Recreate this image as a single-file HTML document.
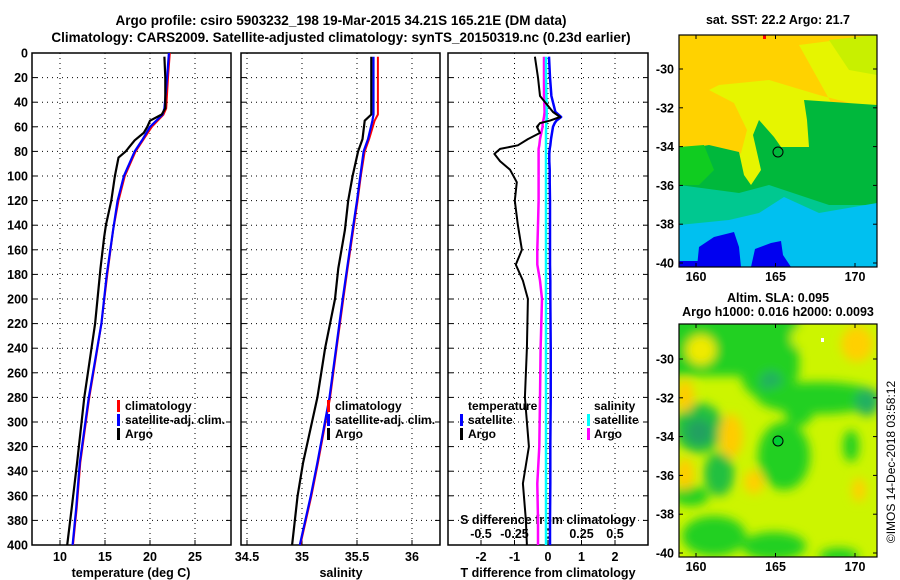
<!DOCTYPE html>
<html><head><meta charset="utf-8">
<style>
html,body{margin:0;padding:0;background:#fff;}
svg{display:block;font-family:"Liberation Sans",Arial,sans-serif;font-weight:bold;}
text{fill:#000;}
</style></head>
<body>
<svg id="chart" width="900" height="580" viewBox="0 0 900 580" xmlns="http://www.w3.org/2000/svg">
<defs>
<clipPath id="clip1"><rect x="32" y="53" width="199" height="492"/></clipPath>
<clipPath id="clip2"><rect x="241" y="53" width="199" height="492"/></clipPath>
<clipPath id="clip3"><rect x="448" y="53" width="200" height="492"/></clipPath>
<clipPath id="clipm1"><rect x="0" y="0" width="198" height="232"/></clipPath>
<clipPath id="clipm2"><rect x="0" y="0" width="198" height="233"/></clipPath>
<filter id="blur" x="-20%" y="-20%" width="140%" height="140%"><feGaussianBlur stdDeviation="5"/></filter>
</defs>
<text x="341" y="25" font-size="13.5" text-anchor="middle">Argo profile: csiro 5903232_198 19-Mar-2015 34.21S 165.21E (DM data)</text>
<text x="341" y="42" font-size="13.5" text-anchor="middle">Climatology: CARS2009. Satellite-adjusted climatology: synTS_20150319.nc (0.23d earlier)</text>
<g id="panels"></g>

<!-- Map 1: SST -->
<text x="778" y="24" font-size="12.5" text-anchor="middle">sat. SST: 22.2 Argo: 21.7</text>
<g transform="translate(679,35)">
 <g clip-path="url(#clipm1)">
  <rect width="198" height="232" fill="#ffd200"/>
  <polygon fill="#e6f500" points="120,10 198,0 198,75 140,60 90,45 40,50 10,65 0,70 0,130 60,150 198,150"/>
  <polygon fill="#ffd200" points="0,55 30,55 55,68 68,95 62,118 42,132 22,118 0,110"/>
  <polygon fill="#c8f000" points="150,5 198,0 198,40 170,35"/>
  <polygon fill="#00b83c" points="125,65 198,70 198,178 0,178 0,115 30,110 60,117 65,140 72,150 82,135 74,100 80,85 95,102 102,112 130,112 128,85"/>
  <polygon fill="#10cc20" points="0,112 25,110 35,135 20,150 0,150"/>
  <polygon fill="#00c890" points="0,150 60,158 90,150 150,170 198,170 198,195 0,198"/>
  <polygon fill="#00c0f0" points="0,190 50,185 80,178 105,162 140,178 198,168 198,232 0,232"/>
  <polygon fill="#0000f0" points="18,232 20,212 35,202 55,197 60,212 62,232"/>
  <polygon fill="#0000f0" points="72,232 76,214 92,208 102,206 104,220 112,232"/>
  <rect x="0" y="226" width="40" height="6" fill="#0000f0"/>
  <rect x="84" y="0" width="3" height="4" fill="#ff0000"/>
 </g>
 <circle cx="99" cy="117" r="5" fill="none" stroke="#000" stroke-width="1"/>
 <rect width="198" height="232" fill="none" stroke="#000" stroke-width="1.2"/>
</g>
<g id="map1axes"></g>

<!-- Map 2: SLA -->
<text x="778" y="302" font-size="12.5" text-anchor="middle">Altim. SLA: 0.095</text>
<text x="778" y="316" font-size="12.5" text-anchor="middle">Argo h1000: 0.016 h2000: 0.0093</text>
<g transform="translate(679,324)">
 <g clip-path="url(#clipm2)">
  <rect width="198" height="233" fill="#ccf500"/>
  <g filter="url(#blur)">
   <rect x="-10" y="-10" width="130" height="62" fill="#22d020"/>
   <ellipse cx="90" cy="50" rx="28" ry="26" fill="#22d020"/>
   <ellipse cx="92" cy="58" rx="11" ry="11" fill="#20b060"/>
   <ellipse cx="140" cy="74" rx="62" ry="16" fill="#22d020"/>
   <ellipse cx="120" cy="88" rx="14" ry="14" fill="#22d020"/>
   <ellipse cx="188" cy="78" rx="12" ry="14" fill="#20b060"/>
   <ellipse cx="20" cy="104" rx="25" ry="25" fill="#20c040"/>
   <ellipse cx="20" cy="108" rx="13" ry="13" fill="#20a060"/>
   <ellipse cx="40" cy="150" rx="15" ry="22" fill="#20c040"/>
   <ellipse cx="105" cy="132" rx="26" ry="34" fill="#22d020"/>
   <ellipse cx="12" cy="172" rx="18" ry="10" fill="#22d020"/>
   <ellipse cx="35" cy="212" rx="32" ry="20" fill="#22d020"/>
   <ellipse cx="95" cy="222" rx="32" ry="14" fill="#22d020"/>
   <ellipse cx="160" cy="232" rx="20" ry="8" fill="#22d020"/>
   <ellipse cx="172" cy="122" rx="8" ry="16" fill="#22d020"/>
   <ellipse cx="22" cy="26" rx="15" ry="15" fill="#f0ea00"/>
   <ellipse cx="120" cy="14" rx="8" ry="10" fill="#ccf500"/>
   <ellipse cx="52" cy="112" rx="12" ry="22" fill="#ffcc00"/>
   <ellipse cx="6" cy="72" rx="9" ry="16" fill="#ffcc00"/>
   <ellipse cx="6" cy="150" rx="9" ry="16" fill="#ffcc00"/>
   <ellipse cx="75" cy="158" rx="10" ry="12" fill="#ffd000"/>
   <ellipse cx="178" cy="20" rx="16" ry="18" fill="#ffd000"/>
   <ellipse cx="180" cy="166" rx="7" ry="12" fill="#ffd000"/>
  </g>
  <rect x="142" y="14" width="3" height="4" fill="#fff"/>
 </g>
 <circle cx="99" cy="117" r="5" fill="#00cc33" stroke="#000" stroke-width="1"/>
 <rect width="198" height="233" fill="none" stroke="#000" stroke-width="1.2"/>
</g>
<g id="map2axes"></g>
<text transform="translate(895,462) rotate(-90)" font-size="12" font-weight="normal" text-anchor="middle">©IMOS 14-Dec-2018 03:58:12</text>
</svg>
<script>
// ---------- data ----------
const depthTicks = [0,20,40,60,80,100,120,140,160,180,200,220,240,260,280,300,320,340,360,380,400];
const tempTicks = [10,15,20,25];
const salTicks = [34.5,35,35.5,36];
const tdiffTicks = [-2,-1,0,1,2];
const sdiffTicks = [-0.5,-0.25,0,0.25,0.5];
const sdiffTickLabels = ["-0.5","-0.25","0","0.25","0.5"];
const latTicks = [-30,-32,-34,-36,-38,-40];
const lonTicks = [160,165,170];

const argoTDepth = [3,20,45,50,55,60,65,71,80,85,100,120,140,150,175,220,250,280,333,370,400];
const argoTemp   = [21.6,21.7,21.7,21.3,20.0,19.7,19.3,18.3,17.3,16.5,16.1,15.7,15.1,14.9,14.5,13.9,13.3,12.7,11.9,11.3,10.8];
const climDepth  = [0,20,45,50,60,70,80,100,120,144,180,220,250,280,333,370,400];
const satTemp    = [22.1,21.9,21.6,21.4,20.0,19.2,18.3,17.1,16.4,15.9,15.2,14.6,13.9,13.2,12.2,11.8,11.4];
const climTemp   = [22.2,22.0,21.8,21.5,20.2,19.3,18.4,17.2,16.5,15.9,15.25,14.6,13.95,13.25,12.25,11.85,11.45];

const argoSDepth = [3,50,55,70,80,100,120,144,175,200,240,280,333,360,400];
const argoSal    = [35.63,35.63,35.57,35.55,35.51,35.46,35.42,35.39,35.33,35.30,35.21,35.14,35.01,34.96,34.91];
const satSal     = [35.65,35.65,35.64,35.60,35.56,35.53,35.50,35.46,35.41,35.37,35.31,35.25,35.14,35.08,34.98];
const climSal    = [35.69,35.69,35.66,35.61,35.57,35.535,35.505,35.465,35.415,35.375,35.315,35.255,35.145,35.085,34.985];

const diffDepth  = [3,20,35,48,52,55,57,60,65,70,75,78,82,88,95,105,120,140,160,172,185,200,240,280,320,350,380,400];
const argoTDiff  = [-0.39,-0.30,-0.24,0.15,0.36,0.05,-0.24,-0.33,-0.24,-0.60,-0.90,-1.43,-1.60,-1.43,-1.13,-0.93,-0.99,-0.90,-0.78,-0.96,-0.75,-0.60,-0.63,-0.69,-0.57,-0.75,-0.66,-0.63];
const satTDiff   = [0.03,0.06,0.10,0.22,0.39,0.25,0.20,0.15,0.12,0.09,0.07,0.05,0.04,0.04,0.05,0.05,0.06,0.06,0.06,0.06,0.07,0.07,0.08,0.08,0.07,0.07,0.06,0.06];
const argoSDiff  = [-0.03,-0.03,-0.03,-0.025,-0.03,-0.035,-0.04,-0.04,-0.05,-0.06,-0.065,-0.07,-0.07,-0.07,-0.07,-0.07,-0.07,-0.075,-0.08,-0.08,-0.06,-0.045,-0.055,-0.06,-0.065,-0.08,-0.075,-0.075];
const satSDiff   = [-0.015,-0.015,-0.012,-0.01,-0.01,-0.012,-0.013,-0.014,-0.015,-0.015,-0.015,-0.015,-0.015,-0.015,-0.015,-0.015,-0.015,-0.015,-0.015,-0.015,-0.015,-0.015,-0.015,-0.015,-0.015,-0.015,-0.015,-0.015];

// ---------- helpers ----------
const NS = "http://www.w3.org/2000/svg";
const root = document.getElementById("panels");
function mk(tag, attrs, parent){
  const e = document.createElementNS(NS, tag);
  for (const k in attrs) e.setAttribute(k, attrs[k]);
  (parent||root).appendChild(e);
  return e;
}
const TOP = 53, BOT = 545;
const yD = d => TOP + d * (BOT - TOP) / 400;
const xT = t => 60 + (t - 10) * 9;
const xS = s => 302 + (s - 35) * 110;
const xTD = t => 548 + t * 33.5;
const xSD = s => 548 + s * 134;

function panelFrame(name, x0, x1, vticks, xf){
  const g = mk("g", {});
  
  
  depthTicks.forEach(d => {
    if (d>0 && d<400){
      const l = mk("line",{x1:x0,x2:x1,y1:yD(d),y2:yD(d),stroke:"#000","stroke-width":1,"stroke-dasharray":"1,4"},g);
      
      
    }
    mk("line",{x1:x0,x2:x0+5,y1:yD(d),y2:yD(d),stroke:"#000","stroke-width":1},g);
    mk("line",{x1:x1-5,x2:x1,y1:yD(d),y2:yD(d),stroke:"#000","stroke-width":1},g);
  });
  vticks.forEach(v => {
    const x = xf(v);
    const l = mk("line",{x1:x,x2:x,y1:TOP,y2:BOT,stroke:"#000","stroke-width":1,"stroke-dasharray":"1,4"},g);
    
    
    mk("line",{x1:x,x2:x,y1:BOT-5,y2:BOT,stroke:"#000","stroke-width":1},g);
  });
  const r = mk("rect",{x:x0,y:TOP,width:x1-x0,height:BOT-TOP,fill:"none",stroke:"#000","stroke-width":1.5},g);
  
  
  return g;
}
function series(name, xs, ds, xf, color, width, clip){
  const pts = xs.map((v,i)=> xf(v).toFixed(1)+","+yD(ds[i]).toFixed(1)).join(" ");
  const p = mk("polyline",{points:pts,fill:"none",stroke:color,"stroke-width":width,"stroke-linejoin":"round","clip-path":"url(#"+clip+")"});
  
  
}
function txt(name, x, y, s, anchor, size){
  const t = mk("text",{x:x,y:y,"text-anchor":anchor||"start","font-size":size||12});
  t.textContent = s;
  
  
  return t;
}
function legendMark(name, x, y, color){
  const r = mk("rect",{x:x,y:y-10,width:3,height:12,fill:color});
  
  
}

// ---------- panel 1: temperature ----------
panelFrame("temperature-panel", 32, 231, tempTicks, xT);
depthTicks.forEach(d => txt("y-tick-label", 28, yD(d)+4.5, String(d), "end", 12.5));
tempTicks.forEach(t => txt("x-tick-label-temp", xT(t), 561, String(t), "middle", 12.5));
txt("x-axis-title-temp", 131, 577, "temperature (deg C)", "middle", 12.5);
series("temp-climatology-line", climTemp, climDepth, xT, "#ff0000", 2, "clip1");
series("temp-satellite-line", satTemp, climDepth, xT, "#0000ff", 2.2, "clip1");
series("temp-argo-line", argoTemp, argoTDepth, xT, "#000", 2.2, "clip1");
legendMark("legend-climatology-mark", 117, 410, "#ff0000");
txt("legend-climatology", 125, 410, "climatology");
legendMark("legend-satellite-mark", 117, 424, "#0000ff");
txt("legend-satellite", 125, 424, "satellite-adj. clim.");
legendMark("legend-argo-mark", 117, 438, "#000");
txt("legend-argo", 125, 438, "Argo");

// ---------- panel 2: salinity ----------
panelFrame("salinity-panel", 241, 440, salTicks, xS);
salTicks.forEach(s => txt("x-tick-label-sal", xS(s), 561, String(s), "middle", 12.5));
txt("x-axis-title-sal", 341, 577, "salinity", "middle", 12.5);
series("sal-climatology-line", climSal, argoSDepth, xS, "#ff0000", 2, "clip2");
series("sal-satellite-line", satSal, argoSDepth, xS, "#0000ff", 2.2, "clip2");
series("sal-argo-line", argoSal, argoSDepth, xS, "#000", 2.2, "clip2");
legendMark("legend-climatology-mark", 327, 410, "#ff0000");
txt("legend-climatology", 335, 410, "climatology");
legendMark("legend-satellite-mark", 327, 424, "#0000ff");
txt("legend-satellite", 335, 424, "satellite-adj. clim.");
legendMark("legend-argo-mark", 327, 438, "#000");
txt("legend-argo", 335, 438, "Argo");

// ---------- panel 3: differences ----------
panelFrame("difference-panel", 448, 648, tdiffTicks, xTD);
tdiffTicks.forEach(t => txt("x-tick-label-tdiff", xTD(t), 561, String(t), "middle", 12.5));
txt("x-axis-title-tdiff", 548, 577, "T difference from climatology", "middle", 12.5);
txt("s-diff-axis-title", 548, 524, "S difference from climatology", "middle", 12.5);
sdiffTicks.forEach((s,i) => txt("s-diff-tick-label", xSD(s), 538, sdiffTickLabels[i], "middle", 12.5));
series("sdiff-argo-line", argoSDiff, diffDepth, xSD, "#ff00ff", 2.5, "clip3");
series("tdiff-satellite-line", satTDiff, diffDepth, xTD, "#0000ff", 2.5, "clip3");
series("sdiff-satellite-line", satSDiff, diffDepth, xSD, "#00ffff", 2.5, "clip3");
series("tdiff-argo-line", argoTDiff, diffDepth, xTD, "#000", 2, "clip3");
txt("legend-temperature-heading", 468, 410, "temperature");
legendMark("legend-tdiff-satellite-mark", 460, 424, "#0000ff");
txt("legend-tdiff-satellite", 468, 424, "satellite");
legendMark("legend-tdiff-argo-mark", 460, 438, "#000");
txt("legend-tdiff-argo", 468, 438, "Argo");
txt("legend-salinity-heading", 594, 410, "salinity");
legendMark("legend-sdiff-satellite-mark", 587, 424, "#00ffff");
txt("legend-sdiff-satellite", 594, 424, "satellite");
legendMark("legend-sdiff-argo-mark", 587, 438, "#ff00ff");
txt("legend-sdiff-argo", 594, 438, "Argo");

// ---------- map axes ----------
function mapAxes(gid, name, latY0, frameTop, frameBot, lonLabelY){
  const g = document.getElementById(gid);
  const lx = lon => 696 + (lon - 160) * 15.9;
  const ly = lat => latY0 + (-30 - lat) * 19.4;
  latTicks.forEach(lat => {
    const t = mk("text",{x:674,y:ly(lat)+4.5,"text-anchor":"end","font-size":12.5},g);
    t.textContent = String(lat);
    
    
    mk("line",{x1:679,x2:683,y1:ly(lat),y2:ly(lat),stroke:"#000"},g);
    mk("line",{x1:873,x2:877,y1:ly(lat),y2:ly(lat),stroke:"#000"},g);
  });
  lonTicks.forEach(lon => {
    const t = mk("text",{x:lx(lon),y:lonLabelY,"text-anchor":"middle","font-size":12.5},g);
    t.textContent = String(lon);
    
    
    mk("line",{x1:lx(lon),x2:lx(lon),y1:frameTop,y2:frameTop+4,stroke:"#000"},g);
    mk("line",{x1:lx(lon),x2:lx(lon),y1:frameBot-4,y2:frameBot,stroke:"#000"},g);
  });
}
mapAxes("map1axes", "sst-map", 69, 35, 267, 281);
mapAxes("map2axes", "sla-map", 359, 324, 557, 571);
</script>
</body></html>
